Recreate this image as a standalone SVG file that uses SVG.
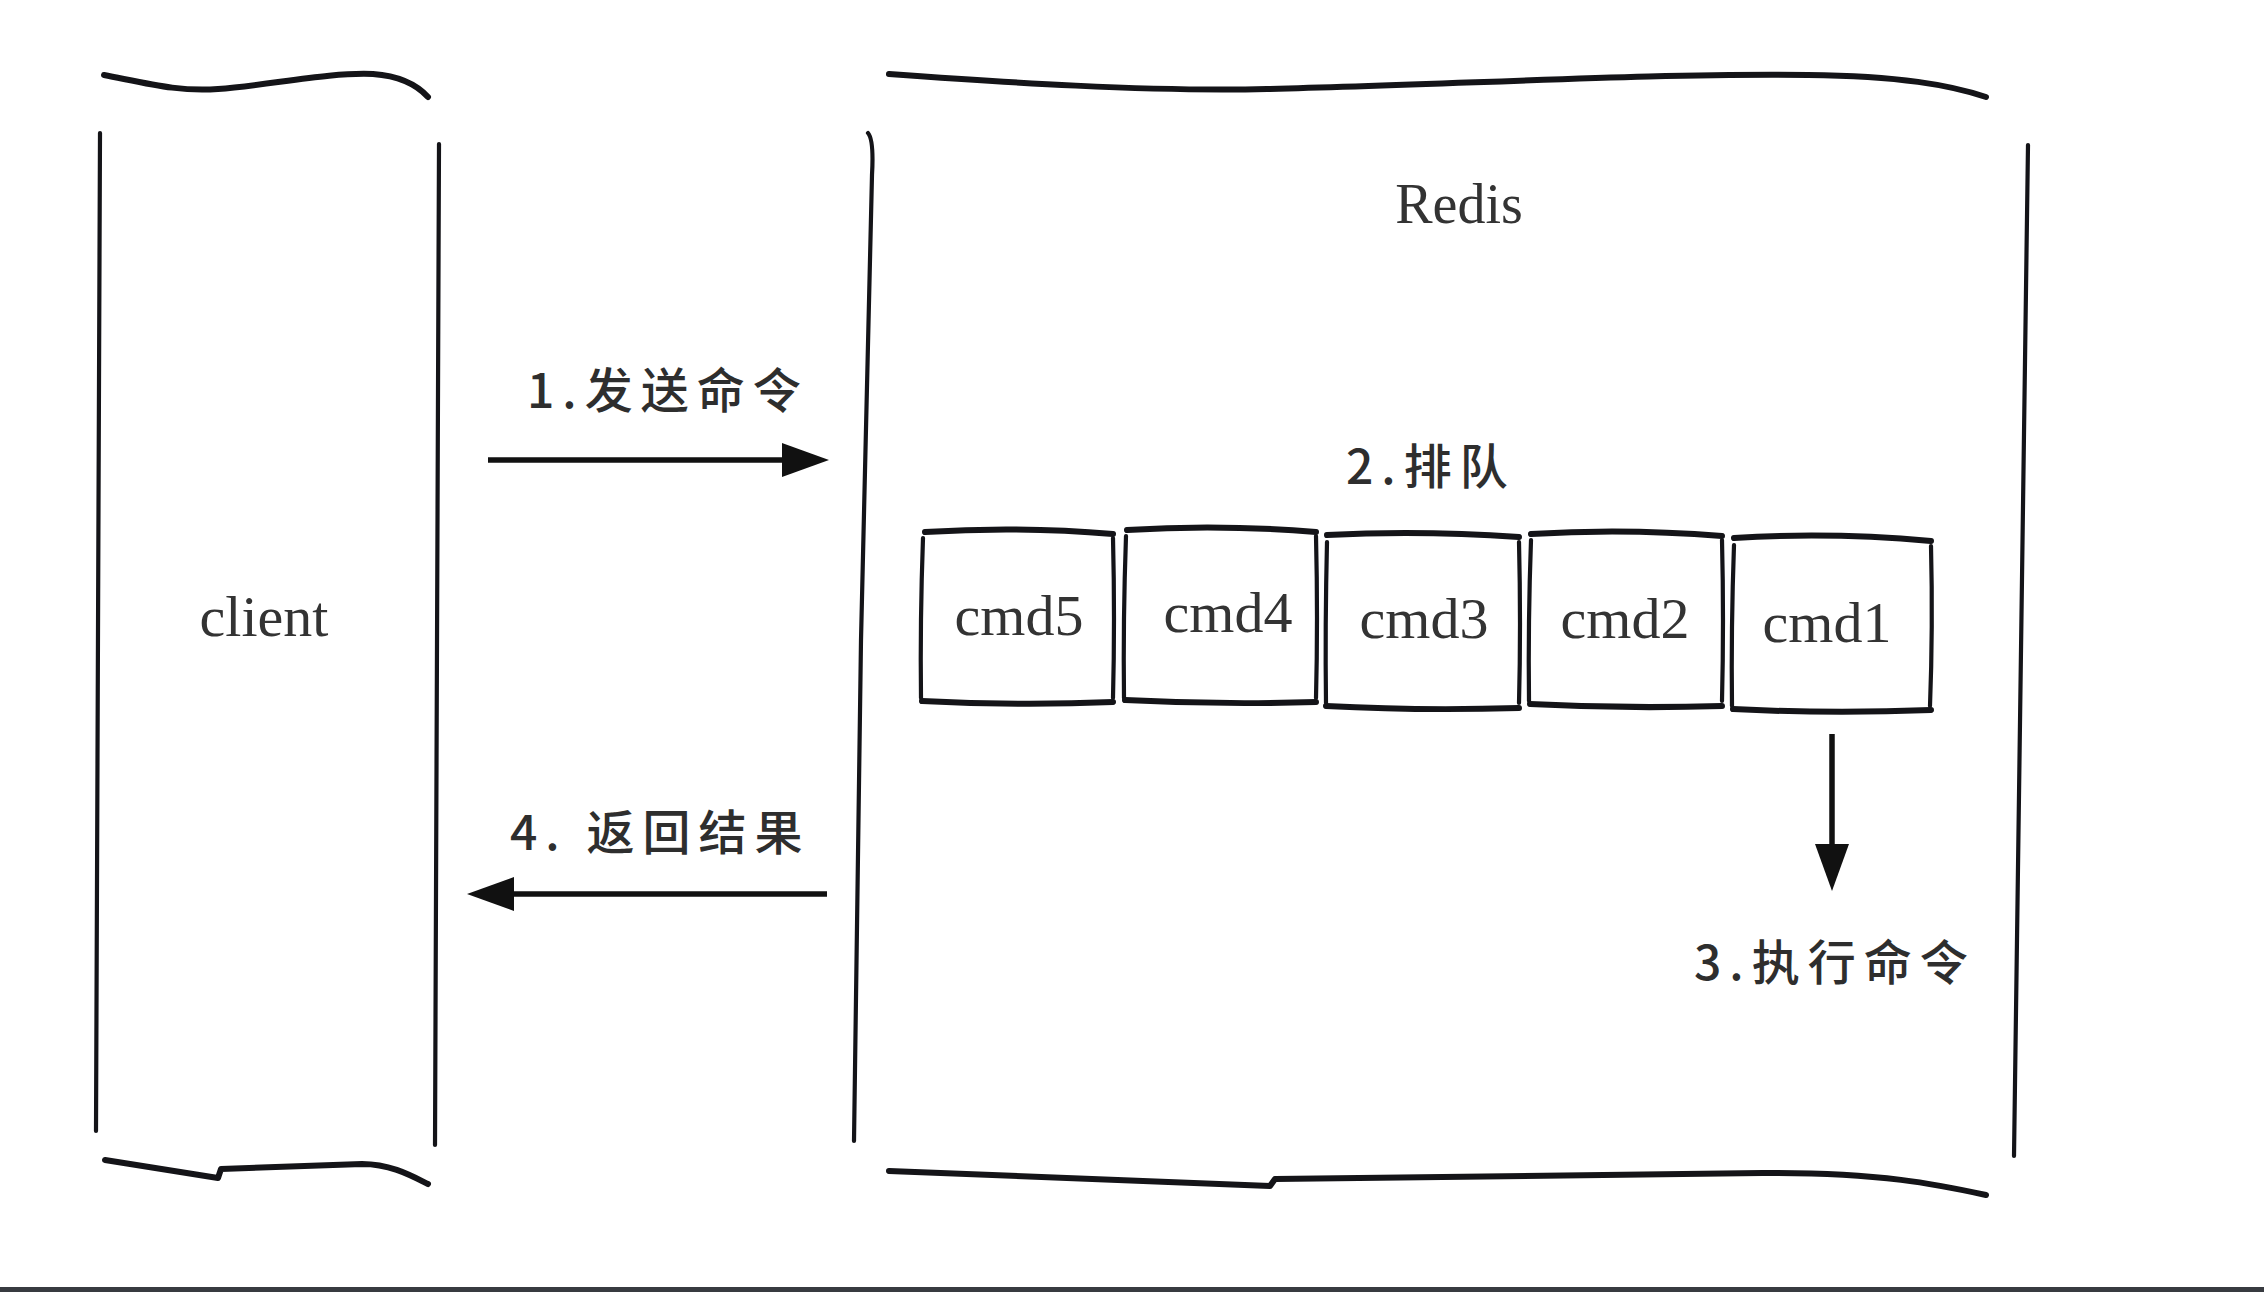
<svg xmlns="http://www.w3.org/2000/svg" width="2264" height="1292" viewBox="0 0 2264 1292">
<style>
.ln{fill:none;stroke:#141418;stroke-width:4.2;stroke-linecap:round;stroke-linejoin:round}
.thick{stroke-width:6}
.serif{font-family:"Liberation Serif","Times New Roman",serif;fill:#333}
.cjk{font-family:"Noto Sans CJK SC","Noto Sans",sans-serif;fill:#2e2e2e;font-size:48px;font-weight:500;letter-spacing:8px}
.arrow{fill:none;stroke:#111;stroke-width:5.5}
</style>
<defs>
<marker id="ah" markerUnits="userSpaceOnUse" markerWidth="48" markerHeight="36" refX="38" refY="17" orient="auto">
<path d="M0,0 L47,17 L0,34 z" fill="#111"/>
</marker>
</defs>
<rect width="2264" height="1292" fill="#ffffff"/>

<g id="client">
<path class="ln thick" d="M104,75 C150,84 180,92 218,89 C270,85 330,72 373,74 C400,76 418,86 428,97"/>
<path class="ln" d="M100,133 Q99,600 96,1131"/>
<path class="ln" d="M439,144 Q437,640 435,1145"/>
<path class="ln thick" d="M105,1160 L218,1178 L221,1169 L362,1164 C390,1164 410,1175 428,1184"/>
<text class="serif" x="264" y="636" font-size="58" text-anchor="middle">client</text>
</g>

<g id="redis">
<path class="ln thick" d="M889,74 C1000,82 1150,92 1267,89 C1450,85 1650,73 1808,75 C1900,76 1950,85 1986,97"/>
<path class="ln" d="M868,133 Q874,140 872,175 L861,640 L854,1141"/>
<path class="ln" d="M2028,145 Q2022,650 2014,1156"/>
<path class="ln thick" d="M889,1171 L1270,1186 L1275,1179 L1762,1173 C1880,1172 1940,1185 1986,1195"/>
<text class="serif" x="1459" y="223" font-size="56" text-anchor="middle">Redis</text>
</g>

<g id="cmd5">
<path class="ln thick" d="M925,532 Q1020,526 1113,534"/>
<path class="ln" d="M923,538 Q920,620 921,698"/>
<path class="ln" d="M1113,538 Q1115,620 1113,698"/>
<path class="ln thick" d="M922,701 Q1020,706 1113,702"/>
<text class="serif" x="1019" y="635" font-size="58" text-anchor="middle">cmd5</text>
</g>
<g id="cmd4">
<path class="ln thick" d="M1127,530 Q1220,524 1316,532"/>
<path class="ln" d="M1126,536 Q1123,620 1124,698"/>
<path class="ln" d="M1316,536 Q1318,620 1316,698"/>
<path class="ln thick" d="M1125,700 Q1220,705 1316,702"/>
<text class="serif" x="1228" y="632" font-size="58" text-anchor="middle">cmd4</text>
</g>
<g id="cmd3">
<path class="ln thick" d="M1327,535 Q1420,530 1519,537"/>
<path class="ln" d="M1327,542 Q1325,625 1326,703"/>
<path class="ln" d="M1519,542 Q1521,625 1519,703"/>
<path class="ln thick" d="M1326,706 Q1420,711 1519,708"/>
<text class="serif" x="1424" y="638" font-size="58" text-anchor="middle">cmd3</text>
</g>
<g id="cmd2">
<path class="ln thick" d="M1531,534 Q1625,528 1722,536"/>
<path class="ln" d="M1531,540 Q1528,622 1529,701"/>
<path class="ln" d="M1722,540 Q1724,622 1722,701"/>
<path class="ln thick" d="M1530,704 Q1625,709 1722,706"/>
<text class="serif" x="1625" y="638" font-size="58" text-anchor="middle">cmd2</text>
</g>
<g id="cmd1">
<path class="ln thick" d="M1734,538 Q1830,532 1931,541"/>
<path class="ln" d="M1734,545 Q1731,628 1732,706"/>
<path class="ln" d="M1931,546 Q1933,628 1930,706"/>
<path class="ln thick" d="M1733,709 Q1830,714 1931,710"/>
<text class="serif" x="1827" y="642" font-size="58" text-anchor="middle">cmd1</text>
</g>

<g id="labels">
<text class="cjk" x="527" y="408">1.发送命令</text>
<text class="cjk" x="1346" y="484">2.排队</text>
<text class="cjk" x="1694" y="980">3.执行命令</text>
<text class="cjk" x="510" y="850">4. 返回结果</text>
</g>

<g id="connectors">
<path class="arrow" d="M488,460 L820,460" marker-end="url(#ah)"/>
<path class="arrow" d="M1832,734 L1832,882" marker-end="url(#ah)"/>
<path class="arrow" d="M827,894 L476,894" marker-end="url(#ah)"/>
</g>

<rect x="0" y="1287" width="2264" height="5" fill="#383b40"/>
</svg>
